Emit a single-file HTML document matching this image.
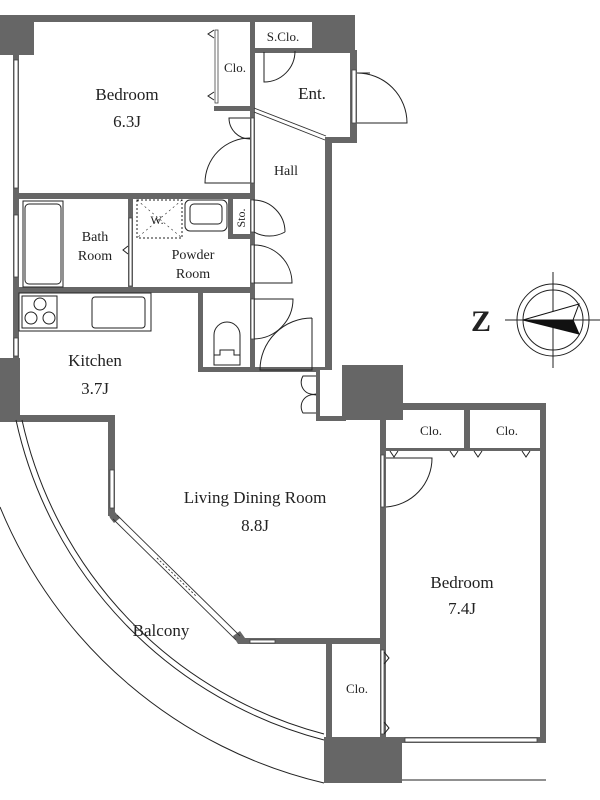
<!DOCTYPE html>
<html><head><meta charset="utf-8"><style>
html,body{margin:0;padding:0;background:#fff;}
svg{display:block;}
text{font-family:"Liberation Serif",serif;fill:#222;}
</style></head><body>
<svg width="600" height="800" viewBox="0 0 600 800" xmlns="http://www.w3.org/2000/svg">
<rect width="600" height="800" fill="#fff"/>
<g fill="#666" stroke="none">
<rect x="0" y="15" width="34" height="40"/>
<rect x="34" y="15" width="220" height="7"/>
<rect x="253" y="15" width="102" height="7"/>
<rect x="312" y="15" width="43" height="37"/>
<rect x="253" y="48" width="102" height="5"/>
<rect x="13" y="55" width="6" height="305"/>
<rect x="13" y="193" width="241" height="6"/>
<rect x="214" y="106" width="40" height="5"/>
<rect x="250" y="22" width="5" height="348"/>
<rect x="350" y="50" width="7" height="93"/>
<rect x="325" y="137" width="32" height="6"/>
<rect x="325" y="137" width="7" height="233"/>
<rect x="128" y="199" width="5" height="89"/>
<rect x="13" y="287" width="241" height="6"/>
<rect x="228" y="199" width="5" height="40"/>
<rect x="228" y="234" width="24" height="5"/>
<rect x="198" y="288" width="5" height="84"/>
<rect x="198" y="367" width="134" height="5"/>
<rect x="0" y="358" width="20" height="64"/>
<rect x="0" y="415" width="115" height="7"/>
<rect x="108" y="415" width="7" height="101"/>
<polygon points="108,512 115,512 120,518 114,523 110,518"/>
<polygon points="233,636 240,631 245,638 240,644 238,644"/>
<rect x="238" y="638" width="147" height="6"/>
<rect x="342" y="365" width="61" height="55"/>
<rect x="316" y="370" width="26" height="50" fill="#fff"/>
<rect x="316" y="370" width="4" height="50"/>
<rect x="316" y="416" width="30" height="5"/>
<rect x="380" y="403" width="166" height="7"/>
<rect x="380" y="403" width="6" height="335"/>
<rect x="540" y="403" width="6" height="340"/>
<rect x="464" y="410" width="6" height="40"/>
<rect x="386" y="448" width="154" height="3"/>
<rect x="326" y="640" width="6" height="100"/>
<rect x="380" y="737" width="166" height="6"/>
<rect x="324" y="737" width="78" height="46"/>
</g>
<g fill="#fff" stroke="#444" stroke-width="0.8">
<rect x="14" y="60" width="4" height="128"/>
<rect x="14" y="215" width="4" height="62"/>
<rect x="14" y="338" width="4" height="18"/>
<rect x="352" y="70" width="4" height="53"/>
<rect x="110" y="470" width="4" height="38"/>
<rect x="250" y="640" width="25" height="3"/>
<rect x="405" y="738" width="132" height="4"/>
<rect x="251" y="118" width="3" height="65"/>
<rect x="251" y="200" width="3" height="32"/>
<rect x="251" y="245" width="3" height="38"/>
<rect x="251" y="299" width="3" height="40"/>
<rect x="129" y="218" width="3" height="68"/>
<rect x="215" y="30" width="3" height="73"/>
<rect x="381" y="455" width="3" height="52"/>
<rect x="381" y="650" width="3" height="84"/>
</g>
<g stroke="#333" fill="none" stroke-width="0.9">
<line x1="113" y1="519" x2="236" y2="640"/>
<line x1="117" y1="515" x2="240" y2="636"/>
<line x1="157" y1="558" x2="197" y2="597" stroke-dasharray="2,2"/>
<line x1="254" y1="108" x2="326" y2="136"/>
<line x1="254" y1="112" x2="325" y2="140"/>
</g>
<g stroke="#222" fill="none" stroke-width="1">
<path d="M264,52 V82 A31,31 0 0 0 295,51"/>
<path d="M357,123 H407 A50,50 0 0 0 357,73 H370"/>
<path d="M250,118 H229 A21,21 0 0 0 250,139"/>
<path d="M250,183 H205 A45,45 0 0 1 250,138"/>
<path d="M254,232 A32,32 0 0 0 285,232 M253,200 A32,32 0 0 1 285,232" />
<path d="M254,245 A38,38 0 0 1 292,283 H254"/>
<path d="M254,299 H293 A40,40 0 0 1 254,339"/>
<path d="M312,318 V370 H260 A52,52 0 0 1 312,318"/>
<path d="M316,376 H303 A12,12 0 0 0 316,394 M316,413 H303 A12,12 0 0 1 316,395"/>
<path d="M386,458 H432 A49,49 0 0 1 386,507"/>
<path d="M214,30 l-6,4 l6,4 M214,92 l-6,4 l6,4 M128,246 l-5,4 l5,4 M390,451 l4,6 l4,-6 M450,451 l4,6 l4,-6 M474,451 l4,6 l4,-6 M522,451 l4,6 l4,-6 M384,652 l5,6 l-5,6 M384,722 l5,6 l-5,6"/>
<rect x="23" y="201" width="40" height="86"/>
<rect x="25" y="204" width="36" height="80" rx="4"/>
<rect x="185" y="200" width="42" height="31" rx="5"/>
<rect x="190" y="204" width="32" height="20" rx="4"/>
<rect x="137" y="200" width="45" height="38" stroke-dasharray="2,2"/>
<path d="M137,200 L182,238 M182,200 L137,238" stroke-dasharray="2,3" stroke-width="0.6"/>
<rect x="19" y="293" width="132" height="38"/>
<rect x="22" y="296" width="35" height="32"/>
<circle cx="40" cy="304" r="6"/><circle cx="31" cy="318" r="6"/><circle cx="49" cy="318" r="6"/>
<rect x="92" y="297" width="53" height="31" rx="3"/>
<path d="M214,365 V335 A13,13 0 0 1 240,335 V365 Z"/>
<path d="M214,355 H220 V350 H234 V355 H240"/>
<path d="M16,420 A424,424 0 0 0 324,740"/>
<path d="M22,420 A418,418 0 0 0 324,734"/>
<path d="M0,507 A465,465 0 0 0 324,783"/>
<line x1="402" y1="780" x2="546" y2="780"/>
<circle cx="553" cy="320" r="36"/>
<circle cx="553" cy="320" r="30"/>
<line x1="505" y1="320" x2="601" y2="320"/>
<line x1="553" y1="272" x2="553" y2="368"/>
</g>
<path d="M523,320 L579,304 L573,320 Z" fill="#fff" stroke="#111"/>
<path d="M523,320 L573,320 L579,334 Z" fill="#111" stroke="#111"/>
<text x="481" y="331" font-size="30" font-weight="bold" text-anchor="middle">Z</text>
<g font-size="17" text-anchor="middle">
<text x="127" y="100">Bedroom</text>
<text x="127" y="127">6.3J</text>
<text x="312" y="99">Ent.</text>
<text x="95" y="366">Kitchen</text>
<text x="95" y="394">3.7J</text>
<text x="255" y="503">Living Dining Room</text>
<text x="255" y="531">8.8J</text>
<text x="462" y="588">Bedroom</text>
<text x="462" y="614">7.4J</text>
<text x="161" y="636">Balcony</text>
</g>
<g font-size="14" text-anchor="middle">
<text x="286" y="175">Hall</text>
<text x="95" y="241">Bath</text>
<text x="95" y="260">Room</text>
<text x="193" y="259">Powder</text>
<text x="193" y="278">Room</text>
</g>
<g font-size="13" text-anchor="middle">
<text x="235" y="72">Clo.</text>
<text x="283" y="41">S.Clo.</text>
<text x="431" y="435">Clo.</text>
<text x="507" y="435">Clo.</text>
<text x="357" y="693">Clo.</text>
<text x="157" y="224" font-size="12">W.</text>
<text x="245" y="218" transform="rotate(-90 245 218)" font-size="12">Sto.</text>
</g>
</svg>
</body></html>
